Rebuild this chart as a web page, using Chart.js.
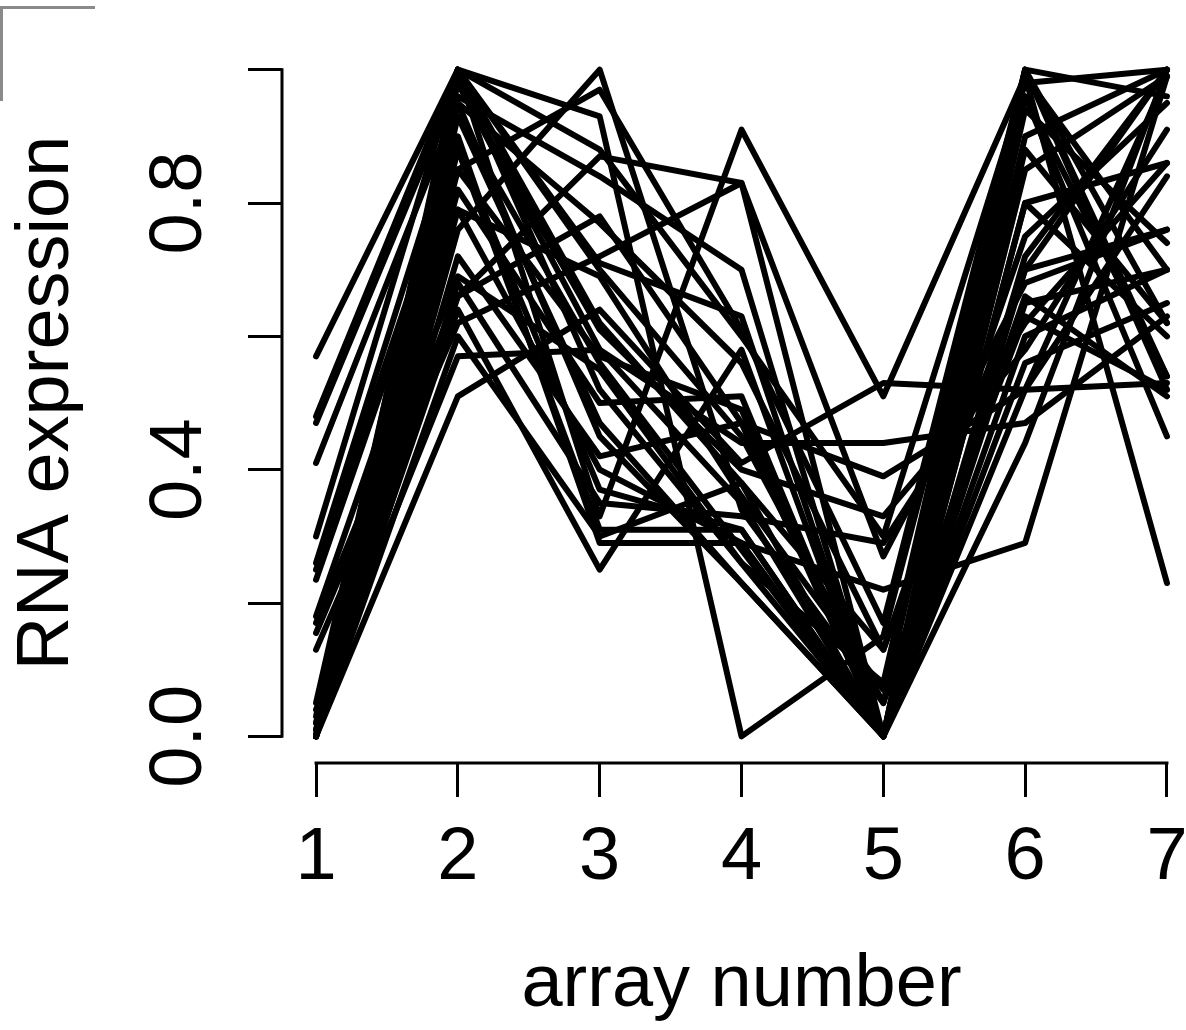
<!DOCTYPE html>
<html>
<head>
<meta charset="utf-8">
<script src="https://cdn.jsdelivr.net/npm/chart.js@4.4.1/dist/chart.umd.min.js"></script>
<style>
  html, body { margin: 0; padding: 0; background: #fff; overflow: hidden; }
  #wrap { position: relative; width: 1186px; height: 1030px; overflow: hidden; }
  #corner { position: absolute; left: 0; top: 6px; width: 92px; height: 92px;
            border-top: 3px solid #8a8a8a; border-left: 3px solid #8a8a8a; }
  canvas { position: absolute; left: 0; top: 0; }
</style>
</head>
<body>
<div id="wrap">
  <canvas id="c" width="1201" height="1030"></canvas>
  <div id="corner"></div>
</div>
<script>
// ---- data ----
const arrayNumbers = [1, 2, 3, 4, 5, 6, 7];
const xTickValues = [1, 2, 3, 4, 5, 6, 7];
const yTickValues = [0, 0.2, 0.4, 0.6, 0.8, 1.0];
const yTickLabels = ['0.0', '', '0.4', '', '0.8', ''];
const xTitle = 'array number';
const yTitle = 'RNA expression';

const gene01 = [0.57, 1.00, 0.88, 0.60, 0.30, 0.98, 1.00];
const gene02 = [0.48, 1.00, 0.70, 0.45, 0.05, 1.00, 0.96];
const gene03 = [0.47, 0.98, 0.58, 0.35, 0.00, 0.85, 0.99];
const gene04 = [0.41, 0.95, 0.77, 0.56, 0.13, 0.70, 1.00];
const gene05 = [0.30, 1.00, 0.62, 0.38, 0.00, 0.96, 0.54];
const gene06 = [0.26, 0.93, 0.47, 0.23, 0.00, 0.80, 0.86];
const gene07 = [0.25, 0.88, 0.31, 0.31, 0.00, 0.65, 0.70];
const gene08 = [0.235, 0.85, 0.97, 0.61, 0.17, 1.00, 0.52];
const gene09 = [0.18, 0.79, 0.40, 0.29, 0.00, 0.52, 0.84];
const gene10 = [0.17, 0.69, 0.55, 0.26, 0.08, 1.00, 0.62];
const gene11 = [0.155, 0.66, 0.87, 0.83, 0.27, 0.68, 0.76];
const gene12 = [0.13, 0.62, 0.72, 0.83, 0.00, 0.44, 1.00];
const gene13 = [0.04, 0.57, 0.58, 0.44, 0.44, 0.47, 0.63];
const gene14 = [0.00, 0.51, 0.64, 0.41, 0.53, 0.52, 0.53];
const gene15 = [0.00, 1.00, 0.93, 0.00, 0.15, 0.96, 0.45];
const gene16 = [0.00, 1.00, 0.33, 0.91, 0.51, 0.99, 0.23];
const gene17 = [0.00, 0.96, 0.84, 0.70, 0.00, 0.60, 0.70];
const gene18 = [0.00, 0.90, 0.29, 0.29, 0.22, 0.29, 0.99];
const gene19 = [0.00, 0.82, 0.50, 0.51, 0.00, 0.72, 1.00];
const gene20 = [0.00, 0.76, 1.00, 0.34, 0.05, 0.66, 0.51];
const gene21 = [0.00, 0.72, 0.42, 0.47, 0.39, 0.52, 0.99];
const gene22 = [0.01, 0.68, 0.35, 0.33, 0.29, 0.62, 0.86];
const gene23 = [0.02, 0.64, 0.25, 0.58, 0.00, 0.88, 0.62];
const gene24 = [0.00, 0.60, 0.30, 0.38, 0.13, 0.75, 0.95];
const gene25 = [0.03, 1.00, 0.71, 0.63, 0.00, 1.00, 0.54];
const gene26 = [0.00, 1.00, 0.52, 0.26, 0.00, 0.90, 1.00];
const gene27 = [0.05, 0.98, 0.61, 0.40, 0.33, 0.58, 0.91];
const gene28 = [0.00, 0.95, 0.45, 0.23, 0.00, 0.94, 0.74];
const gene29 = [0.00, 0.88, 0.37, 0.31, 0.00, 0.70, 0.76];
const gene30 = [0.01, 0.85, 0.57, 0.49, 0.00, 0.80, 0.60];
const gene31 = [0.00, 0.79, 0.69, 0.36, 0.07, 0.63, 0.52];
const gene32 = [0.00, 0.66, 0.78, 0.47, 0.00, 0.56, 0.65];
const gene33 = [0.02, 0.93, 0.56, 0.28, 0.00, 0.99, 0.70];

const allGenes = [gene01, gene02, gene03, gene04, gene05, gene06, gene07, gene08, gene09, gene10,
  gene11, gene12, gene13, gene14, gene15, gene16, gene17, gene18, gene19, gene20,
  gene21, gene22, gene23, gene24, gene25, gene26, gene27, gene28, gene29, gene30,
  gene31, gene32, gene33];

// ---- chart ----
const FONT = '"Liberation Sans", Arial, Helvetica, sans-serif';

const datasets = allGenes.map((vals, i) => ({
  label: 'gene ' + (i + 1),
  data: arrayNumbers.map((x, j) => ({ x: x, y: vals[j] })),
  borderColor: '#000',
  borderWidth: 6,
  borderCapStyle: 'round',
  borderJoinStyle: 'round',
  pointRadius: 0,
  tension: 0,
  fill: false
}));

const rAxes = {
  id: 'rAxes',
  afterDraw(chart) {
    const { ctx, chartArea, scales } = chart;
    ctx.save();
    ctx.strokeStyle = '#000';
    ctx.lineWidth = 3;
    ctx.lineCap = 'square';
    ctx.beginPath();
    ctx.moveTo(scales.x.getPixelForValue(xTickValues[0]), chartArea.bottom);
    ctx.lineTo(scales.x.getPixelForValue(xTickValues[xTickValues.length - 1]), chartArea.bottom);
    ctx.moveTo(chartArea.left, scales.y.getPixelForValue(yTickValues[0]));
    ctx.lineTo(chartArea.left, scales.y.getPixelForValue(yTickValues[yTickValues.length - 1]));
    ctx.stroke();
    ctx.restore();
  }
};

new Chart(document.getElementById('c'), {
  type: 'line',
  data: { datasets },
  options: {
    responsive: false,
    animation: false,
    events: [],
    layout: { padding: { top: 43, left: 0, right: 0, bottom: 0 } },
    plugins: { legend: { display: false }, tooltip: { enabled: false } },
    scales: {
      x: {
        type: 'linear',
        min: 0.76,
        max: 7.24,
        afterBuildTicks: (s) => { s.ticks = xTickValues.map(v => ({ value: v })); },
        afterFit: (s) => { s.height = 267; s.paddingLeft = 0; s.paddingRight = 0; },
        border: { display: false },
        grid: { display: true, drawOnChartArea: false, drawTicks: true, tickLength: 34,
                tickWidth: 3, tickColor: '#000', color: '#000', lineWidth: 3 },
        ticks: { color: '#000', font: { family: FONT, size: 74 }, padding: 17,
                 maxRotation: 0, minRotation: 0, autoSkip: false,
                 callback: (v) => String(v) },
        title: { display: true, text: xTitle, color: '#000',
                 font: { family: FONT, size: 74 }, padding: 0 }
      },
      y: {
        type: 'linear',
        min: -0.04,
        max: 1.04,
        afterBuildTicks: (s) => { s.ticks = yTickValues.map(v => ({ value: v })); },
        afterFit: (s) => { s.width = 282; s.paddingTop = 0; s.paddingBottom = 0; },
        border: { display: false },
        grid: { display: true, drawOnChartArea: false, drawTicks: true, tickLength: 34,
                tickWidth: 3, tickColor: '#000', color: '#000', lineWidth: 3 },
        ticks: { color: '#000', font: { family: FONT, size: 74 }, padding: 16,
                 minRotation: 90, maxRotation: 90, crossAlign: 'center', autoSkip: false,
                 callback: (v, i) => yTickLabels[i] },
        title: { display: true, text: yTitle, color: '#000',
                 font: { family: FONT, size: 74 }, padding: { top: 3, bottom: 0 } }
      }
    }
  },
  plugins: [rAxes]
});
</script>
</body>
</html>
